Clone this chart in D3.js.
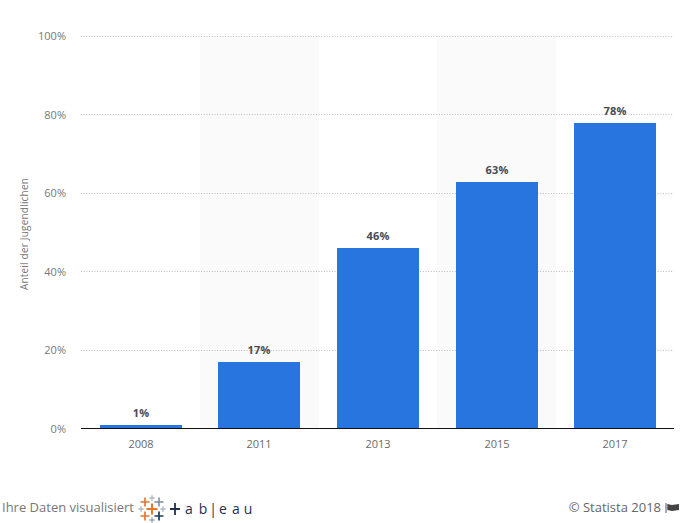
<!DOCTYPE html>
<html><head><meta charset="utf-8">
<script src="https://d3js.org/d3.v7.min.js"></script>
<style>html,body{margin:0;padding:0;background:#fff}svg{display:block}text{font-family:"Open Sans",sans-serif}</style>
</head><body><svg id="c" width="682" height="523"></svg>
<script>
const years = ["2008","2011","2013","2015","2017"];
const shares = [1,17,46,63,78];
const yTicks = [0,20,40,60,80,100];
const yAxisTitle = "Anteil der Jugendlichen";
const credit = "Ihre Daten visualisiert";
const copyright = "\u00a9 Statista 2018";
const tableauLetters = ["a","b","|","e","a","u"];
const tableauX = [189,203,213,223,236,248];
const plus = [[0,0,5.5,"#e8762d",2],[-7,-7,4.5,"#e8762d",1.7],[-7,7,4.5,"#e8762d",1.7],[7,-7,4.5,"#7a8a99",1.5],[7,7,4.5,"#1f3a5f",1.7],[0,-11,2.8,"#9aa3ab",1],[0,11,2.8,"#7a8a99",1],[-11,0,2.8,"#9aa3ab",1],[11,0,2.8,"#9aa3ab",1]];

const svg = d3.select("#c");
const x = d3.scaleBand().domain(years).range([81.5,674.5]).paddingInner(0.31).paddingOuter(0.155);
const y = d3.scaleLinear().domain([0,100]).range([428.5,36]);
const step = x.step();
const barX = d => Math.round(x(d));
const barW = Math.round(x.bandwidth());
const barTop = v => Math.ceil(y(v));

svg.selectAll("rect.stripe").data(years.filter((d,i)=>i%2==1)).join("rect")
  .attr("x",d=>Math.round(x(d)+x.bandwidth()/2-step/2-0.5)).attr("width",Math.round(step))
  .attr("y",y(100)).attr("height",y(0)-y(100)).attr("fill","#fafafa");

svg.selectAll("line.g").data(yTicks.filter(d=>d>0)).join("line")
  .attr("x1",81).attr("x2",674).attr("y1",d=>Math.floor(y(d))+.5).attr("y2",d=>Math.floor(y(d))+.5)
  .attr("stroke","#bdbdbd").attr("stroke-width",1).attr("stroke-dasharray","1 1.67");

svg.selectAll("text.yl").data(yTicks).join("text")
  .attr("x",66).attr("y",d=>y(d)+4).attr("text-anchor","end")
  .attr("font-size",11).attr("fill","#777").text(d=>d+"%");

svg.selectAll("rect.bar").data(years).join("rect")
  .attr("x",barX).attr("width",barW)
  .attr("y",(d,i)=>barTop(shares[i])).attr("height",(d,i)=>y(0)-barTop(shares[i]))
  .attr("fill","#2975e0");

svg.append("line").attr("x1",81).attr("x2",674).attr("y1",428.5).attr("y2",428.5).attr("stroke","#111").attr("stroke-width",1);

svg.selectAll("text.v").data(years).join("text")
  .attr("x",d=>barX(d)+barW/2).attr("y",(d,i)=>barTop(shares[i])-8)
  .attr("text-anchor","middle").attr("font-size",11).attr("font-weight",700).attr("letter-spacing",0.2).attr("fill","#4a4a52")
  .text((d,i)=>shares[i]+"%");

svg.selectAll("text.xl").data(years).join("text")
  .attr("x",d=>barX(d)+barW/2).attr("y",448)
  .attr("text-anchor","middle").attr("font-size",11).attr("fill","#6a6a6a").text(d=>d);

svg.append("text").attr("transform","translate(28,234) rotate(-90)")
  .attr("text-anchor","middle").attr("font-size",10).attr("letter-spacing",0.2).attr("fill","#777").text(yAxisTitle);

svg.append("text").attr("x",2).attr("y",512).attr("font-size",13).attr("fill","#777").text(credit);
const logo = svg.append("g").attr("transform","translate(152,509)");
plus.forEach(p=>{
  logo.append("path").attr("d",`M${p[0]-p[2]},${p[1]}H${p[0]+p[2]}M${p[0]},${p[1]-p[2]}V${p[1]+p[2]}`)
    .attr("stroke",p[3]).attr("stroke-width",p[4]).attr("fill","none");
});
svg.append("path").attr("d","M170,509H180M175,503V515").attr("stroke","#1f3050").attr("stroke-width",1.8).attr("fill","none");
svg.selectAll("text.tb").data(tableauLetters).join("text")
  .attr("x",(d,i)=>tableauX[i]).attr("y",513.5).attr("text-anchor","middle")
  .attr("font-size",14).attr("font-family","Lato").attr("fill","#1f3050").text(d=>d);

svg.append("text").attr("x",661).attr("y",512).attr("text-anchor","end").attr("font-size",13).attr("fill","#666").text(copyright);
const flagX = d3.scaleLinear().domain([0,1]).range([666,679]);
svg.append("path").attr("d",`M${flagX(0)},503V513`).attr("stroke","#555").attr("stroke-width",1);
svg.append("path").attr("d",`M${flagX(.1)},504 L${flagX(.45)},505 L${flagX(1)},504 V510 L${flagX(.45)},511 L${flagX(.1)},510Z`).attr("fill","#444");
</script></body></html>
